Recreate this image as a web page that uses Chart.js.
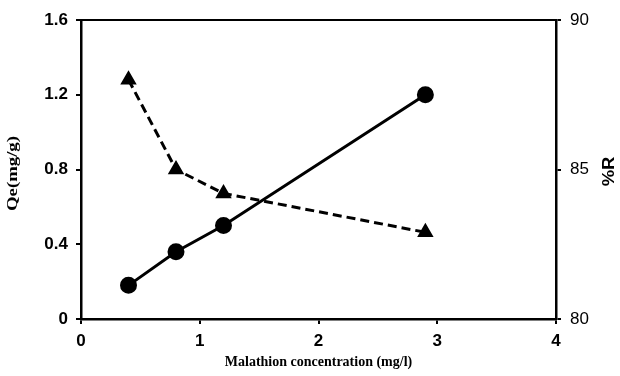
<!DOCTYPE html>
<html>
<head>
<meta charset="utf-8">
<script src="https://cdn.jsdelivr.net/npm/chart.js@4/dist/chart.umd.min.js"></script>
<style>
  html, body { margin: 0; padding: 0; background: #fff; }
  #wrap { width: 620px; height: 376px; }
</style>
</head>
<body>
<div id="wrap"><canvas id="chart"></canvas></div>
<script>
// Data
const concentration = [0.4, 0.8, 1.2, 2.9];   // mg/l
const qe = [0.18, 0.36, 0.50, 1.20];          // mg/g
const removal = [88.0, 85.0, 84.2, 82.9];     // %R

const xTicks = [0, 1, 2, 3, 4];
const qeTicks = [0, 0.4, 0.8, 1.2, 1.6];
const rTicks = [80, 85, 90];

// Frame on top + rotated axis titles (both read bottom-to-top)
const framePlugin = {
    id: 'frame',
    afterDraw(chart) {
        const { ctx, chartArea } = chart;
        const midY = (chartArea.top + chartArea.bottom) / 2;
        ctx.save();
        ctx.strokeStyle = '#000';
        ctx.lineWidth = 2;
        ctx.beginPath();
        ctx.moveTo(chartArea.left - 1, chartArea.top);
        ctx.lineTo(chartArea.right + 1, chartArea.top);
        ctx.stroke();
        ctx.fillStyle = '#000';
        ctx.textAlign = 'center';
        ctx.textBaseline = 'middle';

        // left title
        ctx.save();
        ctx.translate(chart.scales.y.left + 13, midY + 4);
        ctx.rotate(-Math.PI / 2);
        ctx.scale(1.25, 1);
        ctx.font = 'bold 15px "Liberation Serif", "Times New Roman", serif';
        ctx.fillText('Qe(mg/g)', 0, 0);
        ctx.restore();

        // right title
        ctx.translate(chart.scales.y1.right - 10, midY + 2);
        ctx.rotate(-Math.PI / 2);
        ctx.scale(1.15, 1);
        ctx.font = 'bold 16px "Liberation Sans", Arial, sans-serif';
        ctx.fillText('%R', 0, 0);
        ctx.restore();
    }
};

const axisGrid = { display: true, drawOnChartArea: false, drawTicks: true, tickLength: 5, color: '#000', lineWidth: 2 };
const axisBorder = { display: true, color: '#000', width: 2.5 };
const tickFont = { family: '"Liberation Sans", Arial, sans-serif', size: 17, weight: 'bold' };

new Chart(document.getElementById('chart'), {
    type: 'scatter',
    data: {
        datasets: [
            {
                label: 'Qe',
                data: concentration.map((c, i) => ({ x: c, y: qe[i] })),
                showLine: true,
                borderColor: '#000',
                backgroundColor: '#000',
                borderWidth: 3,
                pointStyle: 'circle',
                pointRadius: 7,
                yAxisID: 'y'
            },
            {
                label: '%R',
                data: concentration.map((c, i) => ({ x: c, y: removal[i] })),
                showLine: true,
                borderColor: '#000',
                backgroundColor: '#000',
                borderWidth: 3,
                borderDash: [9, 5],
                pointStyle: 'triangle',
                pointRadius: 6.5,
                yAxisID: 'y1'
            }
        ]
    },
    options: {
        responsive: true,
        maintainAspectRatio: false,
        animation: false,
        layout: { padding: { top: 20, left: 0, right: 0, bottom: 0 } },
        plugins: { legend: { display: false }, tooltip: { enabled: false } },
        scales: {
            x: {
                type: 'linear',
                min: 0, max: 4,
                afterBuildTicks: s => { s.ticks = xTicks.map(v => ({ value: v })); },
                afterFit: s => { s.height = 57; },
                grid: axisGrid,
                border: axisBorder,
                ticks: { color: '#000', padding: 7, font: tickFont },
                title: {
                    display: true,
                    text: 'Malathion concentration (mg/l)',
                    color: '#000',
                    padding: { top: 0, bottom: 5 },
                    font: { family: '"Liberation Serif", "Times New Roman", serif', size: 14, weight: 'bold' }
                }
            },
            y: {
                type: 'linear',
                position: 'left',
                min: 0, max: 1.6,
                afterBuildTicks: s => { s.ticks = qeTicks.map(v => ({ value: v })); },
                afterFit: s => { s.width = 81; },
                grid: axisGrid,
                border: axisBorder,
                ticks: { color: '#000', padding: 8, callback: v => String(v), font: tickFont }
            },
            y1: {
                type: 'linear',
                position: 'right',
                min: 80, max: 90,
                afterBuildTicks: s => { s.ticks = rTicks.map(v => ({ value: v })); },
                afterFit: s => { s.width = 64; },
                grid: axisGrid,
                border: axisBorder,
                ticks: { color: '#000', padding: 9, font: { family: '"Liberation Sans", Arial, sans-serif', size: 17 } }
            }
        }
    },
    plugins: [framePlugin]
});
</script>
</body>
</html>
